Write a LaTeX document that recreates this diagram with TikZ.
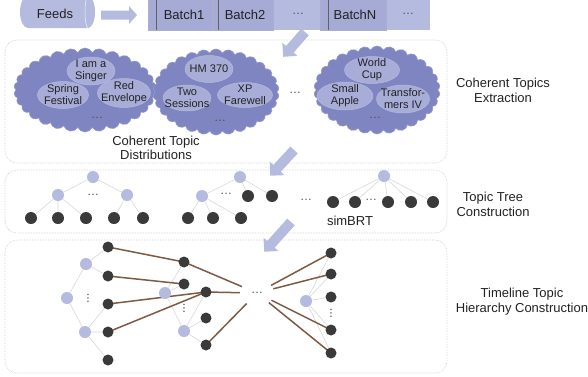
\documentclass[tikz,border=0pt]{standalone}
\usepackage{fontspec}
\setmainfont{Liberation Sans}
\newfontfamily\dejavu{DejaVu Sans}
\usetikzlibrary{shapes.symbols,shapes.geometric}
\definecolor{lav}{HTML}{B5BADF}
\definecolor{lavd}{HTML}{A6ABD5}
\definecolor{cloudc}{HTML}{7F85C0}
\definecolor{ellc}{HTML}{A8ADD8}
\definecolor{darkn}{HTML}{3A3A3A}
\definecolor{brownl}{HTML}{7E5A44}
\definecolor{edgeg}{HTML}{D8D8D8}
\definecolor{boxb}{HTML}{C8C8C8}
\definecolor{txtc}{HTML}{222222}
\pgfdeclarelayer{bg}
\pgfdeclarelayer{edges}
\pgfsetlayers{bg,edges,main}
\tikzset{
  txt/.style={font=\fontsize{13}{15}\selectfont, align=center, inner sep=0pt, text=txtc},
  ctxt/.style={font=\fontsize{11}{12}\selectfont, align=center, inner sep=0pt, text=txtc},
  dotsn/.style={font=\fontsize{12}{14}\selectfont, inner sep=0pt, text=txtc!80},
  vdotsn/.style={font=\dejavu\fontsize{10}{11}\selectfont, inner sep=0pt, text=txtc},
  topic/.style={ellipse, fill=ellc, draw=lav, line width=0.5pt, inner sep=0pt},
  cloudn/.style={cloud, cloud puffs=30, cloud puff arc=130, cloud ignores aspect, fill=cloudc, draw=cloudc!85!white, line width=0.6pt, inner sep=0pt},
  lnode/.style={circle, fill=lav, minimum size=12pt, inner sep=0pt},
  dnode/.style={circle, fill=darkn, minimum size=12pt, inner sep=0pt},
  stagebox/.style={draw=boxb, densely dotted, line width=0.6pt, rounded corners=12pt, fill=white},
  gedge/.style={draw=edgeg, line width=0.6pt},
  bedge/.style={draw=brownl, line width=1.5pt},
  barrow/.style={fill=lav, draw=none},
}
\newcommand{\blockarr}[6]{% x, y, angle, length, shaft half, head half
  \begin{scope}[shift={(#1,#2)}, rotate=#3]
    \fill[barrow] (0,-#5) -- (#4-10,-#5) -- (#4-10,-#6) -- (#4,0) -- (#4-10,#6) -- (#4-10,#5) -- (0,#5) -- cycle;
  \end{scope}}
\begin{document}
\begin{tikzpicture}[x=1pt,y=-1pt]
\useasboundingbox (0,0) rectangle (588,376);
\clip (0,0) rectangle (588,376);

% ---------- stage boxes (background) ----------
\begin{pgfonlayer}{bg}
\draw[stagebox] (5,40) rectangle (447,163);
\draw[stagebox] (5,170) rectangle (447,233);
\draw[stagebox] (5,240) rectangle (447,373);
\end{pgfonlayer}

% ---------- top row ----------
\fill[lav] (28,-4) -- (88,-4) arc[start angle=-90,end angle=90,x radius=7,y radius=16]
  -- (28,28) arc[start angle=90,end angle=270,x radius=8,y radius=16] -- cycle;
\draw[white!85!lav, line width=0.5pt] (88,-4) arc[start angle=-90,end angle=-270,x radius=3,y radius=16];
\node[txt] (feeds) at (55,14) {Feeds};
\begin{scope}[shift={(101,15)}]
  \fill[barrow] (0,-4.5) -- (28,-4.5) -- (28,-9) -- (36,0) -- (28,9) -- (28,4.5) -- (0,4.5) -- cycle;
\end{scope}

\fill[lav] (148,-1) rectangle (430,30);
\fill[lavd, draw=lav!80!gray, line width=0.4pt] (148,-1) rectangle (212,30);
\fill[lavd, draw=lav!80!gray, line width=0.4pt] (213,-1) rectangle (273,30);
\fill[lavd, draw=lav!80!gray, line width=0.4pt] (320,-1) rectangle (386,30);
\draw[darkn!80, line width=0.6pt] (156,-1) -- (156,30);
\draw[darkn!80, line width=0.6pt] (218,-1) -- (218,30);
\draw[darkn!80, line width=0.6pt] (328,-1) -- (328,30);
\node[txt] (b1) at (184,15) {Batch1};
\node[txt] (b2) at (245,15) {Batch2};
\node[dotsn] (b3) at (298,14) {…};
\node[txt] (bn) at (355,15) {BatchN};
\node[dotsn] (b4) at (408,14) {…};

% ---------- block arrows ----------
\blockarr{305}{32}{228.7}{33}{5}{10}
\blockarr{294}{150}{227.3}{35}{5}{10}
\blockarr{291}{222}{228}{40}{5}{10}

% ---------- clouds ----------
\node[cloudn, minimum width=142pt, minimum height=84pt] (c1) at (85,90) {};
\node[cloudn, minimum width=126pt, minimum height=86pt] (c2) at (216,92) {};
\node[cloudn, minimum width=126pt, minimum height=88pt] (c3) at (377,90) {};

\node[topic, minimum width=48pt, minimum height=28pt] (e1) at (91,71) {};
\node[topic, minimum width=51pt, minimum height=27pt] (e2) at (63,95) {};
\node[topic, minimum width=53pt, minimum height=29pt] (e3) at (124,93) {};
\node[ctxt] at (e1) {I am a\\Singer};
\node[ctxt] at (e2) {Spring\\Festival};
\node[ctxt] at (e3) {Red\\Envelope};
\node[dotsn] (c1d) at (97,118) {…};

\node[topic, minimum width=48pt, minimum height=27pt] (e4) at (209,69) {};
\node[topic, minimum width=48pt, minimum height=26pt] (e5) at (187,98) {};
\node[topic, minimum width=55pt, minimum height=25pt] (e6) at (245,95) {};
\node[ctxt] at (e4) {HM 370};
\node[ctxt] at (e5) {Two\\Sessions};
\node[ctxt] at (e6) {XP\\Farewell};
\node[dotsn] (c2d) at (220,121) {…};

\node[dotsn] (cmd) at (295,93) {…};

\node[topic, minimum width=55pt, minimum height=27pt] (e7) at (372,70) {};
\node[topic, minimum width=56pt, minimum height=28pt] (e8) at (345,96) {};
\node[topic, minimum width=53pt, minimum height=28pt] (e9) at (403,99) {};
\node[ctxt] at (e7) {World\\Cup};
\node[ctxt] at (e8) {Small\\Apple};
\node[ctxt] at (e9) {Transfor-\\mers IV};
\node[dotsn] (c3d) at (375,118) {…};

\node[txt, font=\fontsize{13}{14}\selectfont] (ctd) at (156,148) {Coherent Topic\\Distributions};
\node[txt] (lab1) at (503,90) {Coherent Topics\\Extraction};

% ---------- topic trees ----------
\node[lnode] (t1r) at (93,177) {};
\node[lnode] (t1a) at (58,195) {};
\node[lnode] (t1b) at (127,195) {};
\node[dotsn] (t1d) at (93,195) {…};
\foreach \i/\x in {1/31,2/58,3/86,4/114,5/143} \node[dnode] (t1l\i) at (\x,218) {};

\node[lnode] (t2r) at (240,177) {};
\node[lnode] (t2a) at (202,196) {};
\node[dotsn] (t2d) at (226,194) {…};
\node[dnode] (t2b) at (248,196) {};
\node[dnode] (t2c) at (272,196) {};
\foreach \i/\x in {1/188,2/213,3/241} \node[dnode] (t2l\i) at (\x,218) {};

\node[dotsn] (tmd) at (306,200) {…};

\node[lnode] (t3r) at (384,176) {};
\foreach \i/\x in {1/333,2/355,3/388,4/411,5/433} \node[dnode] (t3l\i) at (\x,202) {};
\node[dotsn] (t3d) at (371,200) {…};
\node[txt] (sim) at (350,221) {simBRT};
\node[txt] (lab2) at (493,204) {Topic Tree\\Construction};

\begin{pgfonlayer}{edges}
\draw[gedge] (t1r) -- (t1a) (t1r) -- (t1b);
\draw[gedge] (t1a) -- (t1l1) (t1a) -- (t1l2) (t1a) -- (t1l3) (t1b) -- (t1l4) (t1b) -- (t1l5);
\draw[gedge] (t2r) -- (t2a) (t2r) -- (t2b) (t2r) -- (t2c);
\draw[gedge] (t2a) -- (t2l1) (t2a) -- (t2l2) (t2a) -- (t2l3);
\foreach \i in {1,...,5} \draw[gedge] (t3r) -- (t3l\i);
\end{pgfonlayer}

% ---------- timeline hierarchy ----------
\node[lnode] (g1r) at (67,298) {};
\node[lnode] (g1a) at (86,264) {};
\node[lnode] (g1b) at (85,332) {};
\foreach \i/\y in {1/247,2/276,3/304,4/332,5/360} \node[dnode, minimum size=11pt] (g1d\i) at (108,\y) {};
\node[vdotsn] (g1v) at (88,298) {⋮};

\node[lnode] (g2r) at (165,293) {};
\node[dnode, minimum size=11pt] (g2d1) at (184,262) {};
\node[dnode, minimum size=11pt] (g2d2) at (184,284) {};
\node[lnode] (g2b) at (184,331) {};
\node[dnode, minimum size=11pt] (g2d3) at (206,292) {};
\node[dnode, minimum size=11pt] (g2d4) at (206,318) {};
\node[dnode, minimum size=11pt] (g2d5) at (206,345) {};
\node[vdotsn] (g2v) at (184,308) {⋮};

\node[dotsn, ellipse, minimum width=34pt, minimum height=26pt] (gm) at (257,293) {…};

\node[lnode] (g3r) at (306,301) {};
\foreach \i/\y in {1/253,2/274,3/297,4/330,5/353} \node[dnode, minimum size=11pt] (g3d\i) at (331,\y) {};
\node[vdotsn] (g3v) at (331,313) {⋮};

\node[txt] (lab3) at (522,302) {Timeline Topic\\Hierarchy Construction};

\begin{pgfonlayer}{edges}
\draw[gedge] (g1r) -- (g1a) (g1r) -- (g1b);
\draw[gedge] (g1a) -- (g1d1) (g1a) -- (g1d2);
\draw[gedge] (g1b) -- (g1d3) (g1b) -- (g1d4) (g1b) -- (g1d5);
\draw[gedge] (g2r) -- (g2d1) (g2r) -- (g2d2) (g2r) -- (g2b);
\draw[gedge] (g2b) -- (g2d3) (g2b) -- (g2d4) (g2b) -- (g2d5);
\foreach \i in {1,...,5} \draw[gedge] (g3r) -- (g3d\i);
\draw[bedge] (g1d1.center) -- (g2d1.center);
\draw[bedge] (g2d1.center) -- (gm);
\draw[bedge] (g1d2.center) -- (g2d2.center);
\draw[bedge] (g1d3.center) -- (g2d3.center);
\draw[bedge] (g1d4.center) -- (g2d3.center);
\draw[bedge] (g2d3.center) -- (gm);
\draw[bedge] (g2d5.center) -- (gm);
\draw[bedge] (gm) -- (g3d1.center);
\draw[bedge] (gm) -- (g3d2.center);
\draw[bedge] (gm) -- (g3d4.center);
\draw[bedge] (gm) -- (g3d5.center);
\end{pgfonlayer}
\end{tikzpicture}
\end{document}
